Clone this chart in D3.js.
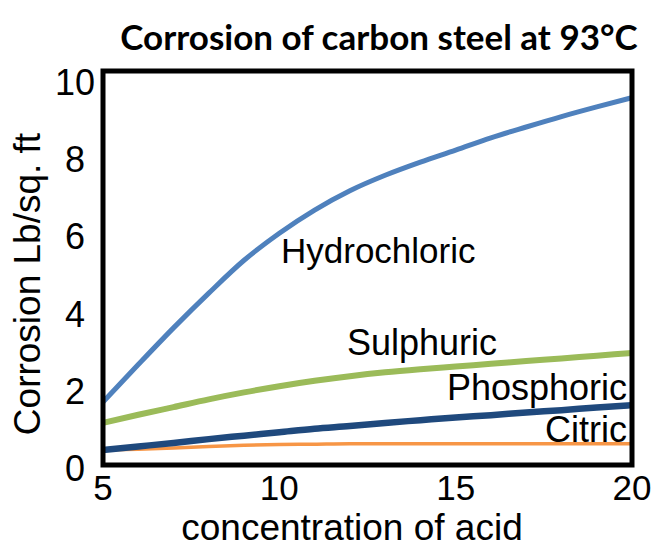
<!DOCTYPE html>
<html>
<head>
<meta charset="utf-8">
<script src="https://cdn.jsdelivr.net/npm/d3@7"></script>
<style>
  html, body { margin: 0; padding: 0; background: #fff; }
  svg { display: block; }
  text { font-family: "Liberation Sans", Arial, sans-serif; fill: #000; }
</style>
</head>
<body>
<div id="chart"></div>
<script>
// acid concentration (x) and corrosion readings per acid
const concentration = [5, 6, 7, 8, 9, 10, 11, 12, 13, 14, 15, 16, 17, 18, 19, 20];
const hydrochloric = [1.63, 2.6, 3.55, 4.45, 5.3, 6.0, 6.6, 7.1, 7.5, 7.84, 8.15, 8.47, 8.75, 9.02, 9.27, 9.51];
const sulphuric    = [1.09, 1.3, 1.5, 1.7, 1.88, 2.04, 2.18, 2.3, 2.4, 2.48, 2.55, 2.62, 2.69, 2.76, 2.83, 2.9];
const phosphoric   = [0.39, 0.48, 0.57, 0.67, 0.76, 0.85, 0.94, 1.01, 1.09, 1.16, 1.23, 1.29, 1.36, 1.42, 1.49, 1.55];
const citric       = [0.39, 0.41, 0.44, 0.48, 0.51, 0.53, 0.54, 0.55, 0.55, 0.55, 0.55, 0.55, 0.55, 0.55, 0.55, 0.55];

const xTicks = [5, 10, 15, 20];
const yTicks = [0, 2, 4, 6, 8, 10];

const width = 655, height = 548;

const svg = d3.select('#chart')
    .append('svg')
    .attr('width', width)
    .attr('height', height);

// plot area
const x = d3.scaleLinear().domain([5, 20]).range([103, 632]);
const y = d3.scaleLinear().domain([0, 10.2]).range([465, 71]);

const line = d3.line()
    .x(d => x(d[0]))
    .y(d => y(d[1]))
    .curve(d3.curveMonotoneX);

// drawn bottom-up so the dark blue sits on top of the orange at the start
const series = [
    {name: 'Citric', values: citric, color: '#f79646', width: 3.5},
    {name: 'Phosphoric', values: phosphoric, color: '#1f497d', width: 6.5},
    {name: 'Sulphuric', values: sulphuric, color: '#9bbb59', width: 6},
    {name: 'Hydrochloric', values: hydrochloric, color: '#4f81bd', width: 5}
];

svg.append('g')
    .selectAll('path')
    .data(series)
    .enter()
    .append('path')
    .attr('fill', 'none')
    .attr('stroke', d => d.color)
    .attr('stroke-width', d => d.width)
    .attr('d', d => line(concentration.map((c, i) => [c, d.values[i]])));

// frame
svg.append('rect')
    .attr('x', x(5))
    .attr('y', y(10.2))
    .attr('width', x(20) - x(5))
    .attr('height', y(0) - y(10.2))
    .attr('fill', 'none')
    .attr('stroke', '#000')
    .attr('stroke-width', 5);

// tick labels
svg.append('g')
    .selectAll('text')
    .data(yTicks)
    .enter()
    .append('text')
    .attr('x', 75)
    .attr('y', d => y(d))
    .attr('dy', '0.45em')
    .attr('text-anchor', 'middle')
    .style('font-size', '36px')
    .text(d => d);

svg.append('g')
    .selectAll('text')
    .data(xTicks)
    .enter()
    .append('text')
    .attr('x', d => x(d))
    .attr('y', 500)
    .attr('text-anchor', 'middle')
    .style('font-size', '35px')
    .text(d => d);

// curve labels
const labels = [
    {text: 'Hydrochloric', x: 281, y: 263, anchor: 'start', size: 35},
    {text: 'Sulphuric', x: 347, y: 355, anchor: 'start', size: 36},
    {text: 'Phosphoric', x: 627, y: 400, anchor: 'end', size: 36},
    {text: 'Citric', x: 627, y: 442, anchor: 'end', size: 36}
];

svg.append('g')
    .selectAll('text')
    .data(labels)
    .enter()
    .append('text')
    .attr('x', d => d.x)
    .attr('y', d => d.y)
    .attr('text-anchor', d => d.anchor)
    .style('font-size', d => d.size + 'px')
    .text(d => d.text);

// axis titles
svg.append('text')
    .attr('x', 352)
    .attr('y', 540)
    .attr('text-anchor', 'middle')
    .style('font-size', '37px')
    .text('concentration of acid');

svg.append('text')
    .attr('transform', 'translate(40, 284) rotate(-90)')
    .attr('text-anchor', 'middle')
    .style('font-size', '37px')
    .text('Corrosion Lb/sq. ft');

// title
svg.append('text')
    .attr('x', 379)
    .attr('y', 50)
    .attr('text-anchor', 'middle')
    .style('font-family', 'Lato, "Open Sans", sans-serif')
    .style('font-weight', 'bold')
    .style('font-size', '35px')
    .text('Corrosion of carbon steel at 93°C');
</script>
</body>
</html>
